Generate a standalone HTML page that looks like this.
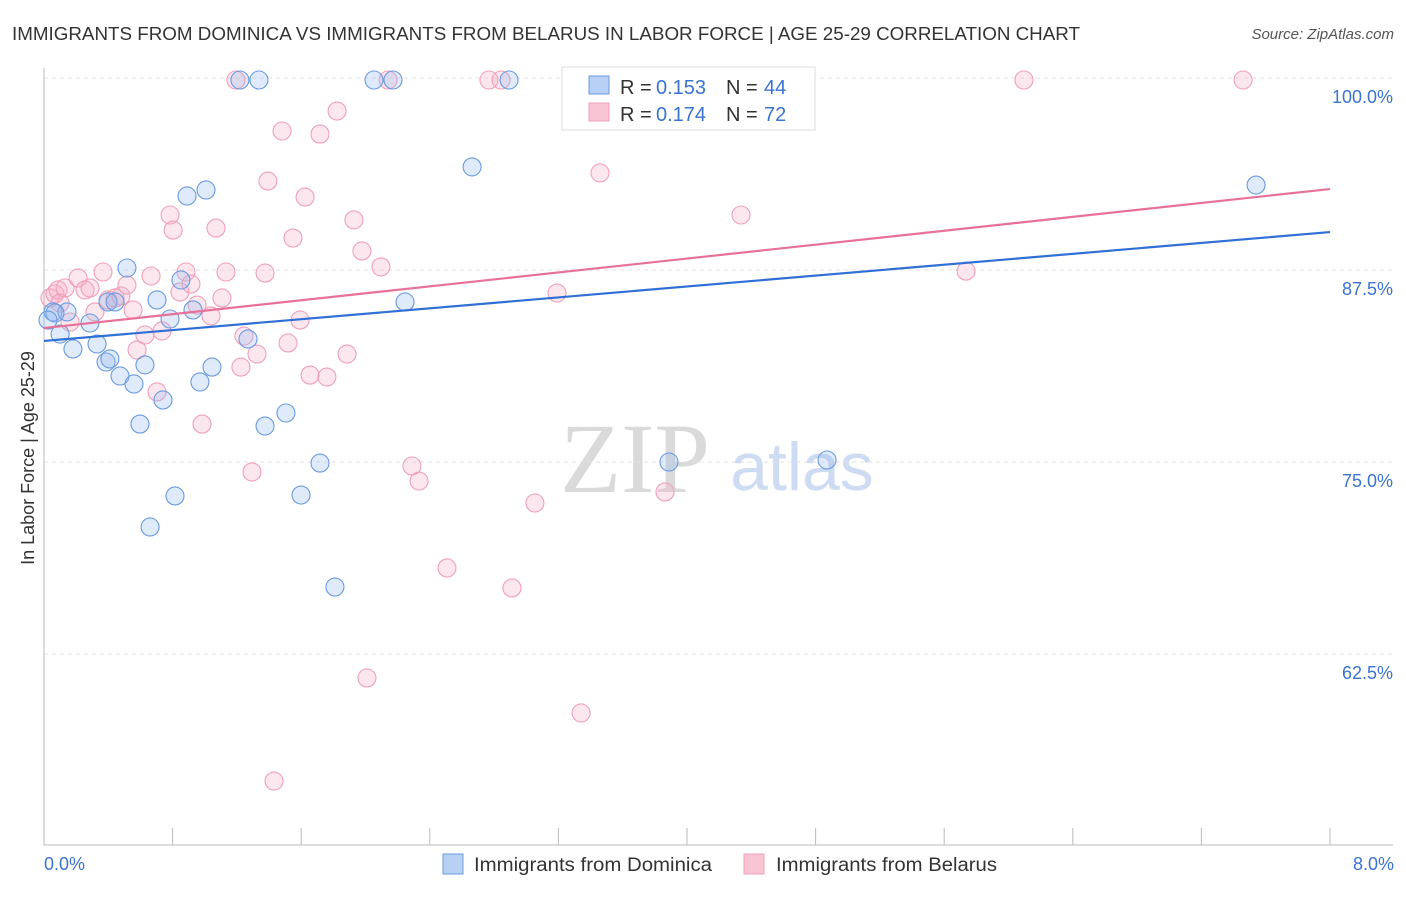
<!DOCTYPE html>
<html><head><meta charset="utf-8"><style>
body{margin:0;background:#fff;}
</style></head><body>
<svg id="chart" width="1406" height="892" xmlns="http://www.w3.org/2000/svg" font-family="Liberation Sans, sans-serif">
<text x="12" y="40" font-size="18" fill="#333" textLength="1068" lengthAdjust="spacingAndGlyphs">IMMIGRANTS FROM DOMINICA VS IMMIGRANTS FROM BELARUS IN LABOR FORCE | AGE 25-29 CORRELATION CHART</text>
<text x="1394" y="39" font-size="15" fill="#555" font-style="italic" text-anchor="end">Source: ZipAtlas.com</text>
<text x="635" y="492" font-size="100" fill="#dadada" style="font-family:'Liberation Serif',serif" text-anchor="middle">ZIP</text>
<text x="802" y="490" font-size="68" fill="#cddcf2" text-anchor="middle">atlas</text>
<g id="grid"></g><g id="axes"></g><g id="pts"></g><g id="trend"></g>
<text x="34" y="458" font-size="18" fill="#333" text-anchor="middle" transform="rotate(-90 34 458)">In Labor Force | Age 25-29</text>
<text x="44" y="870" font-size="18" fill="#3b73d1">0.0%</text>
<text x="1394" y="870" font-size="18" fill="#3b73d1" text-anchor="end">8.0%</text>
<g>
<rect x="562" y="67" width="253" height="63" fill="#fff" stroke="#ddd"/>
<rect x="589" y="76" width="20" height="18" fill="#b8d0f4" stroke="#6a9be0"/>
<rect x="589" y="103" width="20" height="18" fill="#f8c4d4" stroke="#f0a0b8"/>
<text x="620" y="94" font-size="20" fill="#333">R =</text>
<text x="656" y="94" font-size="20" fill="#3b73d1">0.153</text>
<text x="726" y="94" font-size="20" fill="#333">N =</text>
<text x="764" y="94" font-size="20" fill="#3b73d1">44</text>
<text x="620" y="121" font-size="20" fill="#333">R =</text>
<text x="656" y="121" font-size="20" fill="#3b73d1">0.174</text>
<text x="726" y="121" font-size="20" fill="#333">N =</text>
<text x="764" y="121" font-size="20" fill="#3b73d1">72</text>
</g>
<g>
<rect x="443" y="854" width="20" height="20" fill="#b8d0f4" stroke="#6a9be0"/>
<text x="474" y="871" font-size="19" fill="#333" textLength="238" lengthAdjust="spacingAndGlyphs">Immigrants from Dominica</text>
<rect x="744" y="854" width="20" height="20" fill="#f8c4d4" stroke="#f0a0b8"/>
<text x="776" y="871" font-size="19" fill="#333" textLength="221" lengthAdjust="spacingAndGlyphs">Immigrants from Belarus</text>
</g>
</svg>
<script>
const blueX=[0.056,0.10,0.18,0.143,0.286,0.33,0.386,0.41,0.398,0.473,0.516,0.56,0.597,0.628,0.66,0.703,0.74,0.784,0.815,0.852,0.89,0.927,0.97,1.008,1.045,1.219,1.269,1.337,1.375,1.505,1.599,1.717,1.81,2.053,2.171,2.246,2.663,2.893,3.888,4.871,7.54,0.068,0.442,0.025];
const blueY=[84.77,83.33,82.36,84.77,84.05,82.68,81.51,81.71,85.42,80.6,87.63,80.08,77.47,81.32,70.77,85.55,79.04,84.31,72.79,86.85,92.32,84.9,80.21,92.71,81.18,99.87,83.01,99.87,77.34,78.19,72.85,74.93,66.86,99.87,99.87,85.42,94.21,99.87,75.0,75.13,93.03,84.7,85.42,84.24];
const pinkX=[0.037,0.068,0.087,0.1,0.131,0.162,0.212,0.255,0.286,0.317,0.367,0.398,0.442,0.479,0.516,0.554,0.579,0.628,0.666,0.703,0.734,0.784,0.803,0.846,0.883,0.914,0.952,0.983,1.039,1.07,1.107,1.132,1.194,1.225,1.244,1.294,1.325,1.375,1.393,1.481,1.518,1.549,1.593,1.624,1.655,1.717,1.76,1.823,1.885,1.928,1.978,2.009,2.096,2.14,2.289,2.333,2.507,2.768,2.843,2.911,3.054,3.191,3.341,3.459,3.751,3.863,4.156,4.336,5.736,6.096,7.459,1.431];
const pinkY=[85.68,85.94,86.2,85.35,86.33,84.11,86.98,86.2,86.33,84.77,87.37,85.55,85.68,85.81,86.52,84.9,82.29,83.27,87.11,79.56,83.53,91.08,90.1,86.07,87.37,86.59,85.22,77.47,84.51,90.23,85.68,87.37,99.87,81.18,83.2,74.35,82.03,87.3,93.29,96.55,82.75,89.58,84.24,92.25,80.66,96.35,80.53,97.85,82.03,90.76,88.74,60.94,87.7,99.87,74.74,73.76,68.1,99.87,99.87,66.8,72.33,86.0,58.66,93.82,99.87,73.05,99.87,91.08,87.43,99.87,99.87,54.23];
const blueTrend=[82.88,89.97];
const pinkTrend=[83.72,92.77];
const yTicks=[100,87.5,75,62.5];
const yTickLabels=["100.0%","87.5%","75.0%","62.5%"];
const xTicks=[0.8,1.6,2.4,3.2,4.0,4.8,5.6,6.4,7.2,8.0];
const NS="http://www.w3.org/2000/svg";
const xs=v=>44+v*160.75, ys=v=>78+(100-v)*15.36;
function mk(t,a,p){const e=document.createElementNS(NS,t);for(const k in a)e.setAttribute(k,a[k]);p.appendChild(e);return e;}
const g=document.getElementById('grid'),ax=document.getElementById('axes'),pts=document.getElementById('pts'),tr=document.getElementById('trend');
yTicks.forEach((t,i)=>{
 const l=mk('line',{x1:44,x2:1393,y1:ys(t),y2:ys(t),stroke:'#e2e2e2','stroke-dasharray':'4 4'},g);
 
 
 const tx=mk('text',{x:1393,y:ys(t)+25,'font-size':18,fill:'#3b73d1','text-anchor':'end'},g);
 tx.textContent=yTickLabels[i];
 
 
});
const xl=mk('line',{x1:44,x2:1393,y1:845,y2:845,stroke:'#bbb'},ax);


const yl=mk('line',{x1:44,x2:44,y1:68,y2:845,stroke:'#bbb'},ax);


xTicks.forEach(t=>{
 const l=mk('line',{x1:xs(t),x2:xs(t),y1:828,y2:845,stroke:'#bbb'},ax);
 
 
});
function dots(X,Y,fill,stroke,name){X.forEach((x,i)=>{
 const c=mk('circle',{cx:xs(x),cy:ys(Y[i]),r:9,fill:fill,stroke:stroke,'stroke-width':1.1},pts);
 
 
});}
dots(pinkX,pinkY,'rgba(246,176,198,0.3)','#f0a0b8','point-belarus');
dots(blueX,blueY,'rgba(150,185,240,0.3)','#6a9be0','point-dominica');
const bt=mk('line',{x1:xs(0),x2:xs(8),y1:ys(blueTrend[0]),y2:ys(blueTrend[1]),stroke:'#2f6fd6','stroke-width':2.2},tr);


const pt=mk('line',{x1:xs(0),x2:xs(8),y1:ys(pinkTrend[0]),y2:ys(pinkTrend[1]),stroke:'#e8719a','stroke-width':2.2},tr);


</script>
</body></html>
